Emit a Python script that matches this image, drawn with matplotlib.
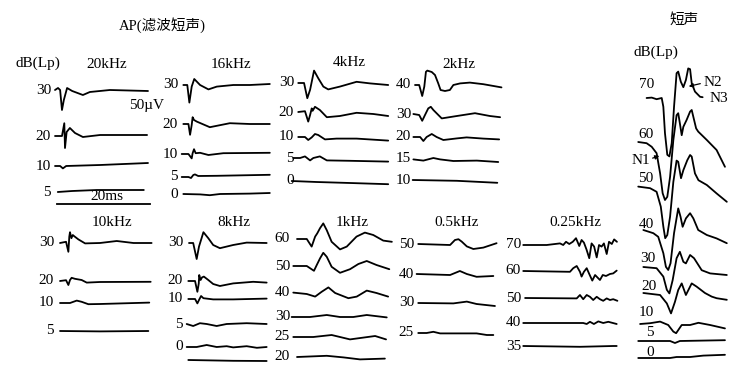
import matplotlib
matplotlib.use("Agg")
import matplotlib.pyplot as plt

# ---------------- layout constants ----------------
W, H, DPI = 755, 381, 100
PX_PER_MS = 4.65       # horizontal scale (20 ms bar ~ 93 px)
UV_PER_PX = 2.5        # vertical scale
FONT = ['Liberation Serif', 'Noto Sans CJK SC', 'DejaVu Serif']

# ---------------- data: titles / levels ----------------
title_main = "AP(滤波短声)"
title_click = "短声"
unit_label = "dB(Lp)"
panel_names = ["20kHz", "16kHz", "4kHz", "2kHz", "10kHz", "8kHz",
               "1kHz", "0.5kHz", "0.25kHz", "短声"]
scale_uv_text = "50µV"
scale_ms_text = "20ms"
scale_ms_value = [0.4, 20.4]

# ---------------- data: waveforms (t in ms, v in µV) ----------------
# 20 kHz
t20k_30 = [0, 0.65, 1.1, 1.5, 1.9, 2.6, 3.7, 6.0, 7.5, 11.8, 20]
v20k_30 = [0, 5, 0, -50, -25, 5, -2.5, -12.5, -5, 0, -2.5]
t20k_20 = [0, 1.5, 2.0, 2.15, 2.5, 3.2, 4.3, 6.0, 9.7, 19.8]
v20k_20 = [0, 0, 32, -30, 10, 20, 7.5, -2.5, 2.5, 2.5]
t20k_10 = [0, 1.1, 1.7, 2.4, 9.7, 20]
v20k_10 = [0, 0, -6, 0, 2.5, 7.5]
t20k_5 = [0.6, 3.7, 9, 19.1]
v20k_5 = [0, 2.5, 5, 5]

# 16 kHz
t16k_30 = [0.5, 1.35, 1.8, 2.3, 2.85, 4.1, 5.9, 7.7, 11.25, 14.8, 19.1]
v16k_30 = [0, 0, -44, -4, 15, 0, -11, -4, 0, 0, 2.5]
t16k_20 = [0.5, 1.6, 1.95, 2.3, 2.5, 2.8, 3.4, 6.2, 10.5, 14.8, 19.1]
v16k_20 = [0, 0, -27, -2.5, 17, 10, 6, -8, 2, 0, 0]
t16k_10 = [0.15, 1.6, 2.3, 2.5, 2.8, 3.15, 4.1, 5.9, 9.1, 19.1]
v16k_10 = [0, 0, -11, 2, 12, 2, 3, -2.5, 2, 3]
t16k_5 = [0.15, 1.6, 2.15, 2.65, 3.0, 3.7, 7.7, 19.1]
v16k_5 = [0, 0, -2.5, 5, 6.5, 2.5, 3, 5.5]
t16k_0 = [0.5, 4.1, 6.2, 8.4, 14.8, 19.1]
v16k_0 = [0, -1, -3, 0, 1, 2.5]

# 4 kHz
t4k_30 = [0.05, 1.3, 2.0, 2.6, 3.45, 4.35, 5.45, 6.5, 9.0, 12.6, 15.5, 19.4]
v4k_30 = [0, 0, -38, -17, 31, 12, -9, -16, -9, 3, -1, -5]
t4k_20 = [0.05, 1.5, 2.2, 2.6, 2.95, 3.15, 3.65, 4.7, 6.2, 9.0, 12.6, 16.2, 19.4]
v4k_20 = [0, 2, -24, -7.5, 9, 3, 13, 5, -13, -10, -2, -5, -10]
t4k_10 = [0.05, 1.5, 2.2, 2.95, 3.65, 4.35, 5.8, 8.3, 12.6, 19.4]
v4k_10 = [0, 0, -7.5, -1, 7.5, 5, -6, -4, -4, -9]
t4k_5 = [-1.0, 0.45, 1.5, 2.6, 3.3, 4.7, 6.2, 11.2, 19.4]
v4k_5 = [0, 0, 4, -6, 0, 4, -6, -7, -9]
t4k_0 = [-1.35, 4.0, 11.2, 19.4]
v4k_0 = [0, -2.5, -5, -8]

# 2 kHz
t2k_40 = [0, 0.9, 1.55, 2.0, 2.35, 2.65, 3.6, 4.3, 5.0, 5.5, 6.45, 7.5, 8.25, 9.7, 11.8, 14.7, 18.6]
v2k_40 = [0, 0, -27.5, -4, 33, 36, 32.5, 25, 4, -12.5, -15, -12.5, 0, 4, 6, 2, -6]
t2k_30 = [-0.35, 0.9, 1.55, 2.15, 2.85, 3.4, 3.95, 5.75, 9.0, 12.9, 16.1, 18.3]
v2k_30 = [0, -2.5, -17, -2.5, 14, 18, 10, -11, -5, 2, -5, -8]
t2k_20 = [-0.35, 1.1, 1.8, 2.5, 3.6, 4.65, 6.1, 9.0, 11.1, 14.7, 18.1]
v2k_20 = [0, 0, -10, 0, 7.5, 0, -7.5, -3.5, -1, -4, -6]
t2k_15 = [-0.35, 1.8, 3.95, 5.4, 8.25, 13.3, 17.9]
v2k_15 = [-1, -4, 2.5, -1, -5, -4, -7.5]
t2k_10 = [-0.5, 9.0, 17.7]
v2k_10 = [0, -2, -7]

# 10 kHz
t10k_30 = [0, 1.3, 1.8, 2.0, 2.15, 2.45, 2.75, 3.0, 3.95, 5.4, 8.6, 12.2, 15.8, 19.7]
v10k_30 = [0, 3, -22, 16, 27, 12, 20, 17.5, 9, -1, 0, 5, 0, 0]
t10k_20 = [0, 1.3, 1.8, 2.15, 2.5, 3.2, 4.65, 5.75, 8.6, 19.5]
v10k_20 = [0, 2, -10, 2.5, 8, 5.5, 2.5, -4, -2.5, -2]
t10k_10 = [0, 2.15, 3.6, 4.65, 6.1, 8.6, 19.2]
v10k_10 = [0, 0, 6, 3, -3, -2.5, 1]
t10k_5 = [0, 8.6, 19.0]
v10k_5 = [0, -1, 0]

# 8 kHz
t8k_30 = [0, 0.9, 1.65, 2.15, 3.1, 4.15, 5.2, 6.65, 9.5, 12.4, 16.7]
v8k_30 = [0, 0, -40, -9, 27, 12, -5, -13, -5, 1, 0]
t8k_20 = [-0.15, 1.3, 1.8, 2.1, 2.2, 2.5, 2.8, 3.2, 4.15, 5.2, 6.65, 9.5, 13.8, 16.7]
v8k_20 = [0, 0, -27, -6, 15, 2.5, 9, 11, 2.5, -7.5, -12.5, -6, -2, -4]
t8k_10 = [-0.15, 1.3, 1.8, 2.15, 2.6, 3.1, 5.2, 9.5, 16.7]
v8k_10 = [0, 0, -11, -2.5, 7.5, 2, -1, -1, 1]
t8k_5 = [-0.5, 0.9, 2.35, 3.8, 5.95, 8.1, 12.4, 16.7]
v8k_5 = [0, -5, 2, 0, -5, 0, 2, 0]
t8k_0 = [-0.5, 1.65, 3.8, 5.95, 8.1, 9.5, 12.4, 14.6, 16.7]
v8k_0 = [0, 0, 5, 0, 2, -1, 2, -2, 0]
t8k_x = [-0.15, 9.5, 16.7]
v8k_x = [0, -2, -2.5]

# 1 kHz
t1k_60 = [0, 2.1, 3.15, 3.9, 4.35, 4.95, 5.65, 6.4, 7.45, 9.25, 10.7, 12.8, 14.6, 16.4, 18.55, 20.4]
v1k_60 = [0, 0, -19, 6, 14, 27, 39, 22, -7, -26, -19, 6, 16, 10, -4, -7]
t1k_50 = [-0.8, 2.1, 3.65, 4.25, 4.95, 5.65, 6.4, 7.45, 9.25, 11.4, 13.2, 15.0, 17.1, 19.85]
v1k_50 = [0, 0, -12, 2.5, 19, 33, 23, -2, -17, -8, 5, 12.5, 2.5, -8]
t1k_40 = [-0.8, 2.1, 3.9, 5.3, 6.75, 8.2, 11.05, 12.85, 15.0, 17.1, 19.6]
v1k_40 = [1, -2.5, -9, 3, 14, 0, -13, -9, 6, 0, -9]
t1k_30 = [-1.15, 2.8, 6.4, 9.25, 12.1, 15.0, 19.3]
v1k_30 = [0, 0, 5, 0, 0, 5, -1]
t1k_25 = [-0.8, 3.5, 7.45, 11.4, 16.8, 19.15]
v1k_25 = [0, 0, 5, -6, 2.5, -6]
t1k_20 = [0, 6.4, 10.0, 13.55, 18.9]
v1k_20 = [0, 3, -1, -6, -4]

# 0.5 kHz
t05k_50 = [0.05, 6.9, 7.95, 8.7, 9.4, 10.5, 11.9, 14.05, 16.9]
v05k_50 = [0, -2.5, 10, 12, 6, -6, -12.5, -9, 2]
t05k_40 = [-0.3, 6.9, 9.0, 10.5, 12.6, 16.2]
v05k_40 = [0, -2.5, 7.5, 0, -7, -5]
t05k_30 = [0.05, 7.6, 10.5, 12.6, 16.55]
v05k_30 = [0, -1, 3.5, -2.5, -7.5]
t05k_25 = [0.05, 1.85, 3.3, 4.75, 12.6, 14.8, 16.2]
v05k_25 = [0, 0, 3, -1, -1, -5, -5]

# 0.25 kHz
t025k_70 = [0.05, 5.1, 7.95, 8.65, 9.25, 9.95, 10.7, 11.4, 12.1, 12.6, 13.1, 13.65,
            14.25, 14.75, 15.3, 15.85, 16.35, 16.9, 17.4, 18.0, 18.5, 19.1, 19.6, 20.2]
v025k_70 = [0, 0, 4, 0, 8, 2.5, 8, 17, -2.5, 12.5, 6, -11,
            -33, 4, -4, -31, 0, -4, 4, -22.5, 8, 2.5, 14, 8]
t025k_60 = [0.05, 10.1, 10.8, 11.55, 12.25, 12.6, 13.1, 13.7, 14.25, 14.9, 15.5,
            16.0, 16.55, 17.15, 17.85, 18.7, 19.4, 20.15]
v025k_60 = [0, -2, 7, 12.5, -2, -14, -2, 7, -7.5, -24, -10,
            -16, -22.5, -10, -12.5, -7.5, -6, 1]
t025k_50 = [0.45, 11.55, 12.25, 12.95, 13.7, 14.4, 15.1, 15.85, 16.55, 17.25, 18.0, 18.7, 19.4, 20.3]
v025k_50 = [0, -1, 7.5, -3, 7.5, 3, -5, 3, -3, -7, -1, -5, -3, -7]
t025k_40 = [0.05, 12.95, 13.7, 14.4, 15.25, 16.2, 17.25, 18.35, 20.15]
v025k_40 = [0, 0, -2.5, 3, -2.5, 4, 0, 3, -2.5]
t025k_35 = [0.05, 12.25, 19.4, 20.15]
v025k_35 = [0, -2, 0, 0]

# click (短声)
tc_70 = [1.85, 2.95, 4.0, 5.1, 5.45, 5.8, 6.3, 6.75, 7.25, 7.75, 8.3, 8.65, 9.2, 9.75,
         10.3, 10.8, 11.2, 11.55, 12.25, 13.35, 13.9]
vc_70 = [0, 1, -3, 0, -22, -88, -142, -146, -113, -22, 62, 66, 41, 27,
         45, 74, 72, 37, 16, 3, 2]
tc_60 = [0.05, 1.85, 2.95, 4.0, 4.75, 5.3, 5.8, 6.3, 6.9, 7.6, 8.3, 8.65, 9.0, 9.4,
         9.75, 10.45, 11.2, 11.55, 11.9, 12.5, 12.95, 14.8, 16.9, 18.7]
vc_60 = [0, -3, -12, -28, -78, -128, -145, -137, -87, 5, 67, 72, 47, 17,
         38, 55, 76, 80, 63, 34, 26, 5, -20, -62]
tc_50 = [0.05, 2.6, 4.0, 4.9, 5.45, 5.85, 6.3, 6.9, 7.6, 8.3, 8.65, 9.25, 9.75, 10.6,
         11.2, 11.55, 12.25, 13.0, 14.8, 16.9, 19.1]
vc_50 = [1, -3, -12, -49, -99, -128, -120, -74, 13, 66, 63, 22, 42, 67,
         80, 76, 34, 17, 5, -16, -37]
tc_40 = [1.15, 3.3, 4.35, 5.45, 6.0, 6.5, 7.0, 7.75, 8.65, 9.15, 9.6, 10.3, 11.2,
         11.9, 12.95, 14.8, 16.9, 19.1]
vc_40 = [0, -8, -17, -58, -92, -100, -83, -8, 54, 33, 8, 29, 42,
         29, 0, -12.5, -21, -33]
tc_30 = [1.15, 4.0, 5.45, 6.2, 6.75, 7.45, 8.3, 9.0, 9.75, 10.3, 11.2, 12.05, 13.7, 15.5, 19.1]
vc_30 = [0, -3, -24, -57, -66, -33, 22, 38, 13, 9, 30, 22, -8, -16, -20]
tc_20 = [1.15, 4.75, 6.2, 7.1, 7.95, 8.65, 9.4, 10.3, 11.55, 12.6, 14.4, 15.85, 16.9, 19.1]
vc_20 = [0, -5, -26, -51, -22, 7.5, 24, -5, 24, 16, 0, -9, -13, -17]
tc_10 = [0.45, 2.6, 4.75, 6.5, 7.6, 8.2, 8.9, 9.4, 11.2, 13.0, 15.5, 18.7]
vc_10 = [0, 2, 6, -2.5, -19, -23, -11, -2.5, -2.5, 3, -2.5, -11]
tc_5 = [0.05, 6.9, 7.95, 9.0, 18.7]
vc_5 = [0, 0, -5, 0, 2]
tc_0 = [0.05, 6.9, 8.3, 11.2, 14.05, 18.7]
vc_0 = [0, 0, 2.5, 2.5, 6, 8]

peak_labels = ["N1", "N2", "N3"]

# ---------------- layout (pixel positions) ----------------
# panel: (trace origin x px, label right-edge px, title centre (x, y) px)
panel_layout = {
    "20kHz":   (55, 51, (107, 64)),
    "16kHz":   (181, 178, (231, 65)),
    "4kHz":    (298, 294, (349, 63)),
    "2kHz":    (415, 411, (459, 64)),
    "10kHz":   (60, 54, (112, 223)),
    "8kHz":    (189, 183, (234, 223)),
    "1kHz":    (297, 290, (352, 223)),
    "0.5kHz":  (418, 414, (457, 223)),
    "0.25kHz": (523, 521, (575, 223)),
    "短声":    (638, None, (684, 20)),
}

# traces: panel -> list of (label, t, v, baseline px)
traces = {
    "20kHz": [("30", t20k_30, v20k_30, 90), ("20", t20k_20, v20k_20, 136),
              ("10", t20k_10, v20k_10, 166), ("5", t20k_5, v20k_5, 192)],
    "16kHz": [("30", t16k_30, v16k_30, 85), ("20", t16k_20, v16k_20, 124),
              ("10", t16k_10, v16k_10, 154), ("5", t16k_5, v16k_5, 177),
              ("0", t16k_0, v16k_0, 194)],
    "4kHz": [("30", t4k_30, v4k_30, 83), ("20", t4k_20, v4k_20, 112),
             ("10", t4k_10, v4k_10, 137), ("5", t4k_5, v4k_5, 158),
             ("0", t4k_0, v4k_0, 181)],
    "2kHz": [("40", t2k_40, v2k_40, 85), ("30", t2k_30, v2k_30, 114),
             ("20", t2k_20, v2k_20, 137), ("15", t2k_15, v2k_15, 159),
             ("10", t2k_10, v2k_10, 180)],
    "10kHz": [("30", t10k_30, v10k_30, 243), ("20", t10k_20, v10k_20, 281),
              ("10", t10k_10, v10k_10, 303), ("5", t10k_5, v10k_5, 331)],
    "8kHz": [("30", t8k_30, v8k_30, 243), ("20", t8k_20, v8k_20, 281),
             ("10", t8k_10, v8k_10, 299), ("5", t8k_5, v8k_5, 324),
             ("0", t8k_0, v8k_0, 347), ("", t8k_x, v8k_x, 360)],
    "1kHz": [("60", t1k_60, v1k_60, 239), ("50", t1k_50, v1k_50, 266),
             ("40", t1k_40, v1k_40, 293), ("30", t1k_30, v1k_30, 317),
             ("25", t1k_25, v1k_25, 337), ("20", t1k_20, v1k_20, 357)],
    "0.5kHz": [("50", t05k_50, v05k_50, 244), ("40", t05k_40, v05k_40, 274),
               ("30", t05k_30, v05k_30, 303), ("25", t05k_25, v05k_25, 333)],
    "0.25kHz": [("70", t025k_70, v025k_70, 245), ("60", t025k_60, v025k_60, 271),
                ("50", t025k_50, v025k_50, 298), ("40", t025k_40, v025k_40, 323),
                ("35", t025k_35, v025k_35, 346)],
    "短声": [("70", tc_70, vc_70, 98), ("60", tc_60, vc_60, 142),
             ("50", tc_50, vc_50, 187), ("40", tc_40, vc_40, 230),
             ("30", tc_30, vc_30, 267), ("20", tc_20, vc_20, 293),
             ("10", tc_10, vc_10, 324), ("5", tc_5, vc_5, 341),
             ("0", tc_0, vc_0, 358)],
}
# label centres for the click panel (px)
click_label_pos = [(647, 85), (646, 135), (646, 178), (646, 224), (648, 258),
                   (649, 287), (646, 313), (650, 333), (650, 352)]

# ---------------- drawing ----------------
fig = plt.figure(figsize=(W / DPI, H / DPI), dpi=DPI)
fig.patch.set_facecolor("white")
canvas = fig.add_axes([0, 0, 1, 1])
canvas.set_xlim(0, W)
canvas.set_ylim(H, 0)
canvas.axis("off")

LW = 1.3
FS = 11

def txt(x, y, s, size=FS, ha="center", va="center"):
    canvas.text(x, y, s, fontsize=size, ha=ha, va=va, family=FONT, color="black")

txt(162, 25, title_main, size=10.5)
txt(38, 63, unit_label)
txt(656, 52, unit_label)

for name in panel_names:
    x0, lab_right, (tx, ty) = panel_layout[name]
    ax = fig.add_axes([0, 0, 1, 1])
    ax.set_xlim(-x0 / PX_PER_MS, (W - x0) / PX_PER_MS)
    ax.set_ylim(-H * UV_PER_PX, 0)
    ax.axis("off")
    ax.patch.set_alpha(0)
    txt(tx, ty, name, size=10.5 if name == "短声" else FS)
    for i, (lab, t, v, base) in enumerate(traces[name]):
        ax.plot(t, [vi - base * UV_PER_PX for vi in v], color="black",
                lw=LW, solid_joinstyle="round", solid_capstyle="round")
        if not lab:
            continue
        if lab_right is None:
            lx, ly = click_label_pos[i]
            txt(lx, ly, lab)
        else:
            txt(lab_right, base, lab, ha="right")

# scale bars (20 kHz panel)
ax0 = fig.axes[1]
ax0.plot(scale_ms_value, [-204 * UV_PER_PX] * 2, color="black", lw=LW)
txt(107, 197, scale_ms_text)
txt(147, 106, scale_uv_text)

# peak annotations
txt(641, 160, peak_labels[0])
canvas.annotate("", xy=(662, 155), xytext=(650, 159),
                arrowprops=dict(arrowstyle="-|>", lw=0.9, color="black",
                                mutation_scale=6))
txt(713, 82, peak_labels[1])
canvas.annotate("", xy=(686, 87), xytext=(703, 83),
                arrowprops=dict(arrowstyle="-|>", lw=0.9, color="black",
                                mutation_scale=6))
txt(719, 99, peak_labels[2])

fig.savefig("out.png", dpi=DPI, facecolor="white")
